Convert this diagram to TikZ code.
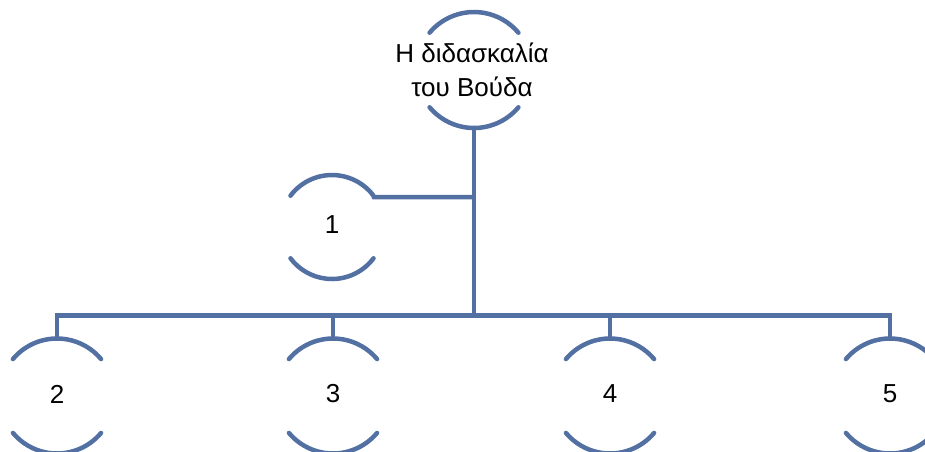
\documentclass[tikz,border=0pt]{standalone}
\usepackage{fontspec}
\setmainfont{Liberation Sans}
\definecolor{linec}{RGB}{83,112,163}
\tikzset{
  ln/.style={draw=linec, line width=4.5pt, line cap=round},
  conn/.style={draw=linec, line width=4.5pt, line join=miter},
  lbl/.style={inner sep=0pt, align=center, font=\fontsize{26}{34}\selectfont},
}
\begin{document}
\begin{tikzpicture}[x=1pt,y=-1pt]
\useasboundingbox (0,0) rectangle (925,451);
% nodes
\node[lbl] (root) at (472,70) {Η διδασκαλία\\του Βούδα};
\node[lbl] (n1) at (332,225) {1};
\node[lbl] (n2) at (57,394) {2};
\node[lbl] (n3) at (333,394) {3};
\node[lbl] (n4) at (610,394) {4};
\node[lbl] (n5) at (890,394) {5};
% arcs root
\draw[ln] ([shift={(220:58)}]474,70) arc[start angle=220,end angle=320,radius=58];
\draw[ln] ([shift={(40:58)}]474,70) arc[start angle=40,end angle=140,radius=58];
% arcs n1
\draw[ln] ([shift={(217:52)}]332,227) arc[start angle=217,end angle=323,radius=52];
\draw[ln] ([shift={(37:52)}]332,227) arc[start angle=37,end angle=143,radius=52];
% bottom arcs
\foreach \cx in {57,333,610,890}{
  \draw[ln] ([shift={(220:57.5)}]\cx,396) arc[start angle=220,end angle=320,radius=57.5];
  \draw[ln] ([shift={(40:57.5)}]\cx,396) arc[start angle=40,end angle=140,radius=57.5];
}
% connector coordinates
\coordinate (rootb) at (474,128);
\coordinate (busmid) at (474,315.5);
\coordinate (br1) at (474,197);
\coordinate (n1r) at (374,197);
\coordinate (t2) at (57,338.5);
\coordinate (t3) at (333,338.5);
\coordinate (t4) at (610,338.5);
\coordinate (t5) at (890,338.5);
\draw[conn] (rootb) -- (busmid);
\draw[conn] (br1) -- (n1r) -- ([shift={(323:52)}]332,227);
\draw[conn] (t2) |- (busmid);
\draw[conn] (t5) |- (busmid);
\draw[conn] (t3) -- (t3 |- busmid);
\draw[conn] (t4) -- (t4 |- busmid);
\end{tikzpicture}
\end{document}
